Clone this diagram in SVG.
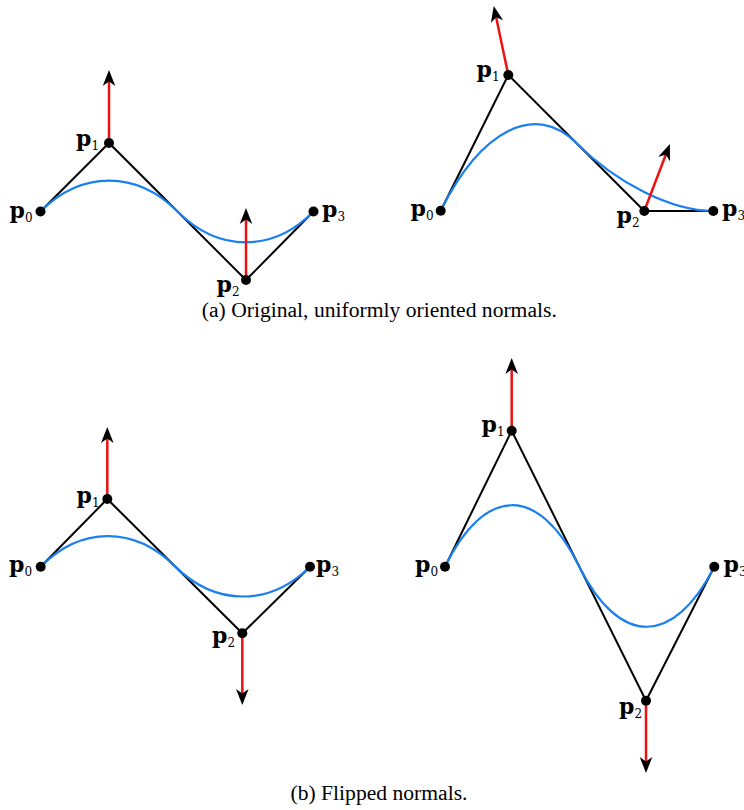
<svg xmlns="http://www.w3.org/2000/svg" width="744" height="810" viewBox="0 0 744 810">
<style>
.poly{fill:none;stroke:#000;stroke-width:2;stroke-linejoin:miter}
.curve{fill:none;stroke:#1a80f0;stroke-width:2.2}
.nrm{stroke:#ee1111;stroke-width:2.5;marker-end:url(#stealth)}
.dot{fill:#000}
.lab{font-family:"DejaVu Serif",serif;font-weight:bold;font-size:22px;fill:#000}
.sub{font-family:"DejaVu Serif",serif;font-weight:normal;font-size:12px}
.cap{font-family:"Liberation Serif","Times New Roman",serif;font-size:21.6px;fill:#000;text-anchor:middle}
</style>
<defs>
<marker id="stealth" markerUnits="userSpaceOnUse" markerWidth="20" markerHeight="16" viewBox="-8 -7 16 14" refX="0" refY="0" orient="auto">
<path d="M7,0 L-7,-5.5 L-3,0 L-7,5.5 Z" fill="#000"/>
</marker>
</defs>
<rect width="744" height="810" fill="#fff"/>

<!-- Panel A1 -->
<g id="connectors-a1">
<polyline class="poly" points="40.5,211.5 109,143 246,280 313.5,211.5"/>
<path class="curve" d="M40.5,211.5 C81.6,170.4 136.4,170.4 177.5,211.5 C218.6,252.6 273,252.6 313.5,211.5"/>
<line class="nrm" x1="109" y1="143" x2="109" y2="78"/>
<line class="nrm" x1="246" y1="280" x2="246" y2="216"/>
</g>
<g id="a1-p0"><circle class="dot" cx="40.5" cy="211.5" r="5"/><text class="lab" x="9.5" y="217.5">p<tspan class="sub" dy="4">0</tspan></text></g>
<g id="a1-p1"><circle class="dot" cx="109" cy="143" r="5"/><text class="lab" x="76" y="145.5">p<tspan class="sub" dy="4">1</tspan></text></g>
<g id="a1-p2"><circle class="dot" cx="246" cy="280" r="5"/><text class="lab" x="216.5" y="291.5">p<tspan class="sub" dy="4">2</tspan></text></g>
<g id="a1-p3"><circle class="dot" cx="313.5" cy="211.5" r="5"/><text class="lab" x="322" y="217">p<tspan class="sub" dy="4">3</tspan></text></g>

<!-- Panel A2 -->
<g id="connectors-a2">
<polyline class="poly" points="440.7,210.7 508.3,75 644.3,211 713.3,211"/>
<path class="curve" d="M440.7,210.7 C481.3,129.3 535.5,102.2 576.3,143 C617.1,183.8 671.9,211 713.3,211"/>
<line class="nrm" x1="508.3" y1="75" x2="495.4" y2="13.8"/>
<line class="nrm" x1="644.3" y1="211" x2="667" y2="151.5"/>
</g>
<g id="a2-p0"><circle class="dot" cx="440.7" cy="210.7" r="5"/><text class="lab" x="410.5" y="216">p<tspan class="sub" dy="4">0</tspan></text></g>
<g id="a2-p1"><circle class="dot" cx="508.3" cy="75" r="5"/><text class="lab" x="476.5" y="77">p<tspan class="sub" dy="4">1</tspan></text></g>
<g id="a2-p2"><circle class="dot" cx="644.3" cy="211" r="5"/><text class="lab" x="616.5" y="223">p<tspan class="sub" dy="4">2</tspan></text></g>
<g id="a2-p3"><circle class="dot" cx="713.3" cy="211" r="5"/><text class="lab" x="722" y="216">p<tspan class="sub" dy="4">3</tspan></text></g>

<text class="cap" x="379.3" y="317">(a) Original, uniformly oriented normals.</text>

<!-- Panel B1 -->
<g id="connectors-b1">
<polyline class="poly" points="40.7,566.7 107.3,499 242.3,633.3 310,566.7"/>
<path class="curve" d="M40.7,566.7 C80.7,526.1 134.3,525.9 174.8,566.15 C215.3,606.4 269.4,606.7 310,566.7"/>
<line class="nrm" x1="107.3" y1="499" x2="107.3" y2="435"/>
<line class="nrm" x1="242.3" y1="633.3" x2="242.3" y2="697"/>
</g>
<g id="b1-p0"><circle class="dot" cx="40.7" cy="566.7" r="5"/><text class="lab" x="9" y="572">p<tspan class="sub" dy="4">0</tspan></text></g>
<g id="b1-p1"><circle class="dot" cx="107.3" cy="499" r="5"/><text class="lab" x="76.5" y="503">p<tspan class="sub" dy="4">1</tspan></text></g>
<g id="b1-p2"><circle class="dot" cx="242.3" cy="633.3" r="5"/><text class="lab" x="212" y="643">p<tspan class="sub" dy="4">2</tspan></text></g>
<g id="b1-p3"><circle class="dot" cx="310" cy="566.7" r="5"/><text class="lab" x="316" y="571.5">p<tspan class="sub" dy="4">3</tspan></text></g>

<!-- Panel B2 -->
<g id="connectors-b2">
<polyline class="poly" points="445,566.7 511.7,430.7 646,700.7 714.3,566.7"/>
<path class="curve" d="M445,566.7 C485,485.1 538.6,484.7 578.85,565.7 C619.1,646.7 673.3,647.1 714.3,566.7"/>
<line class="nrm" x1="511.7" y1="430.7" x2="511.7" y2="366"/>
<line class="nrm" x1="646" y1="700.7" x2="646" y2="765"/>
</g>
<g id="b2-p0"><circle class="dot" cx="445" cy="566.7" r="5"/><text class="lab" x="415" y="572">p<tspan class="sub" dy="4">0</tspan></text></g>
<g id="b2-p1"><circle class="dot" cx="511.7" cy="430.7" r="5"/><text class="lab" x="481.5" y="432">p<tspan class="sub" dy="4">1</tspan></text></g>
<g id="b2-p2"><circle class="dot" cx="646" cy="700.7" r="5"/><text class="lab" x="619" y="713.5">p<tspan class="sub" dy="4">2</tspan></text></g>
<g id="b2-p3"><circle class="dot" cx="714.3" cy="566.7" r="5"/><text class="lab" x="723.5" y="572">p<tspan class="sub" dy="4">3</tspan></text></g>

<text class="cap" x="379" y="800">(b) Flipped normals.</text>
</svg>
